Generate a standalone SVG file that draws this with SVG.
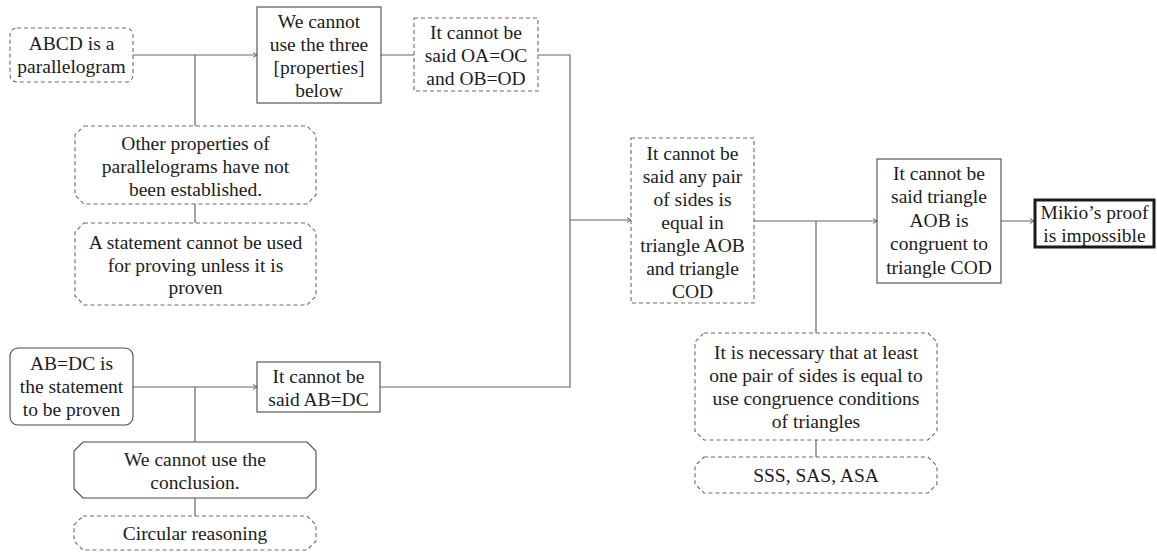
<svg xmlns="http://www.w3.org/2000/svg" width="1157" height="556" viewBox="0 0 1157 556">
<style>
text{font-family:"Liberation Serif","Times New Roman",serif;font-size:19.5px;fill:#1c1c1c;text-anchor:middle}
.solid{fill:#fff;stroke:#4a4a4a;stroke-width:1.1}
.dash{fill:#fff;stroke:#6a6a6a;stroke-width:1.1;stroke-dasharray:4 3}
.thick{fill:#fff;stroke:#1a1a1a;stroke-width:3}
.conn{fill:none;stroke:#666;stroke-width:1.2}
</style>
<defs>
<marker id="arr" markerUnits="userSpaceOnUse" markerWidth="10" markerHeight="10" refX="8" refY="5" orient="auto">
<path d="M4,2.5 L8,5 L4,7.5" fill="none" stroke="#666" stroke-width="1"/>
</marker>
</defs>
<rect width="1157" height="556" fill="#fff"/>
<g id="connectors">
<path class="conn" d="M133,55 H257" marker-end="url(#arr)"/>
<path class="conn" d="M195,55 V126"/>
<path class="conn" d="M195,204 V223"/>
<path class="conn" d="M381,55 H414"/>
<path class="conn" d="M538,55 H570 V387 H380"/>
<path class="conn" d="M570,220 H631" marker-end="url(#arr)"/>
<path class="conn" d="M133,387 H257" marker-end="url(#arr)"/>
<path class="conn" d="M195,387 V442"/>
<path class="conn" d="M195,498 V516"/>
<path class="conn" d="M754,221 H877" marker-end="url(#arr)"/>
<path class="conn" d="M816,221 V333"/>
<path class="conn" d="M816,440 V457"/>
<path class="conn" d="M1001,221 H1034" marker-end="url(#arr)"/>
</g>
<g id="n-abcd">
<rect class="dash" x="10" y="28" width="123" height="54" rx="7"/>
<text x="71.5" y="50">ABCD is a</text>
<text x="71.5" y="73">parallelogram</text>
</g>
<g id="n-three">
<rect class="solid" x="257" y="7" width="124" height="96"/>
<text x="319" y="27.5">We cannot</text>
<text x="319" y="50.5">use the three</text>
<text x="319" y="73.5">[properties]</text>
<text x="319" y="96.5">below</text>
</g>
<g id="n-oaoc">
<rect class="dash" x="414" y="18" width="124" height="73"/>
<text x="476" y="39">It cannot be</text>
<text x="476" y="62">said OA=OC</text>
<text x="476" y="85">and OB=OD</text>
</g>
<g id="n-other">
<path class="dash" d="M84,126 H307 L316,135 V195 L307,204 H84 L75,195 V135 Z"/>
<text x="195.5" y="150">Other properties of</text>
<text x="195.5" y="173">parallelograms have not</text>
<text x="195.5" y="196">been established.</text>
</g>
<g id="n-statement">
<path class="dash" d="M84,223 H307 L316,232 V296 L307,305 H84 L75,296 V232 Z"/>
<text x="195.5" y="248.5">A statement cannot be used</text>
<text x="195.5" y="271.5">for proving unless it is</text>
<text x="195.5" y="294">proven</text>
</g>
<g id="n-abdc">
<rect class="solid" x="10" y="348" width="123" height="77" rx="8"/>
<text x="71.5" y="370">AB=DC is</text>
<text x="71.5" y="393">the statement</text>
<text x="71.5" y="416">to be proven</text>
</g>
<g id="n-saidabdc">
<rect class="solid" x="257" y="362" width="123" height="50"/>
<text x="318.5" y="383">It cannot be</text>
<text x="318.5" y="406">said AB=DC</text>
</g>
<g id="n-conclusion">
<path class="solid" d="M83,442 H307 L316,451 V489 L307,498 H83 L74,489 V451 Z"/>
<text x="195" y="466">We cannot use the</text>
<text x="195" y="489">conclusion.</text>
</g>
<g id="n-circular">
<path class="dash" d="M83,516 H307 L316,525 V541 L307,550 H83 L74,541 V525 Z"/>
<text x="195" y="539.5">Circular reasoning</text>
</g>
<g id="n-anypair">
<rect class="dash" x="631" y="138" width="123" height="165"/>
<text x="692.5" y="159.5">It cannot be</text>
<text x="692.5" y="182.5">said any pair</text>
<text x="692.5" y="205.5">of sides is</text>
<text x="692.5" y="228.5">equal in</text>
<text x="692.5" y="251.5">triangle AOB</text>
<text x="692.5" y="274.5">and triangle</text>
<text x="692.5" y="297.5">COD</text>
</g>
<g id="n-congruent">
<rect class="solid" x="877" y="159" width="124" height="124"/>
<text x="939" y="179.5">It cannot be</text>
<text x="939" y="203">said triangle</text>
<text x="939" y="226.5">AOB is</text>
<text x="939" y="250">congruent to</text>
<text x="939" y="273.5">triangle COD</text>
</g>
<g id="n-mikio">
<rect class="thick" x="1035" y="200" width="119" height="47"/>
<text x="1094.5" y="219">Mikio’s proof</text>
<text x="1094.5" y="242">is impossible</text>
</g>
<g id="n-necessary">
<path class="dash" d="M704,333 H928 L937,342 V431 L928,440 H704 L695,431 V342 Z"/>
<text x="816" y="358.5">It is necessary that at least</text>
<text x="816" y="381.5">one pair of sides is equal to</text>
<text x="816" y="404.5">use congruence conditions</text>
<text x="816" y="427.5">of triangles</text>
</g>
<g id="n-sss">
<path class="dash" d="M704,457 H928 L937,466 V484 L928,493 H704 L695,484 V466 Z"/>
<text x="816" y="482">SSS, SAS, ASA</text>
</g>
</svg>
